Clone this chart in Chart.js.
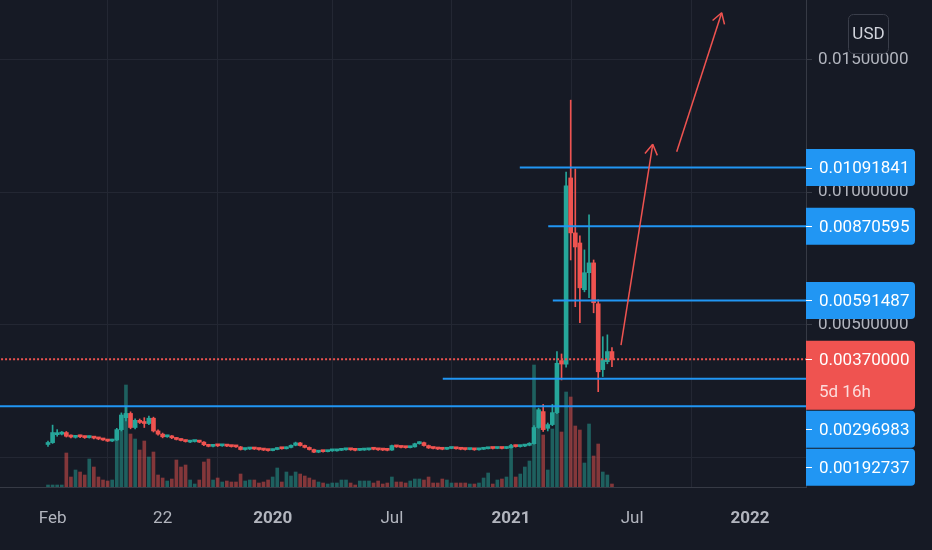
<!DOCTYPE html>
<html>
<head>
<meta charset="utf-8">
<script src="https://cdn.jsdelivr.net/npm/chart.js@4.4.0/dist/chart.umd.min.js"></script>
<style>
  html, body { margin: 0; padding: 0; background: #161a25; }
  #wrap { width: 932px; height: 550px; }
</style>
</head>
<body>
<div id="wrap"><canvas id="chart" width="932" height="550"></canvas></div>
<script>
// weekly candles, one per week starting late Jan 2019 (x = week number)
const open = [
  0.00049, 0.00056, 0.00086, 0.00088, 0.00094, 0.00082, 0.00076, 0.00081, 0.00079, 0.00075,
  0.00078, 0.00073, 0.00070, 0.00066, 0.00062, 0.00066, 0.00105, 0.00150, 0.00166, 0.00113,
  0.00140, 0.00134, 0.00128, 0.00148, 0.00100, 0.00088, 0.00078, 0.00081, 0.00074, 0.00068,
  0.00064, 0.00058, 0.00060, 0.00062, 0.00058, 0.00048, 0.00042, 0.00046, 0.00044, 0.00047,
  0.00044, 0.00042, 0.00040, 0.00030, 0.00032, 0.00035, 0.00032, 0.00030, 0.00028, 0.00026,
  0.00030, 0.00035, 0.00033, 0.00038, 0.00046, 0.00055, 0.00045, 0.00038, 0.00030, 0.00020,
  0.00024, 0.00022, 0.00025, 0.00025, 0.00027, 0.00029, 0.00031, 0.00029, 0.00027, 0.00028,
  0.00029, 0.00033, 0.00031, 0.00029, 0.00028, 0.00028, 0.00043, 0.00040, 0.00038, 0.00037,
  0.00040, 0.00052, 0.00056, 0.00045, 0.00036, 0.00034, 0.00033, 0.00031, 0.00034, 0.00036,
  0.00033, 0.00031, 0.00030, 0.00031, 0.00029, 0.00031, 0.00033, 0.00036, 0.00034, 0.00036,
  0.00034, 0.00037, 0.00045, 0.00041, 0.00043, 0.00046, 0.00052, 0.00113, 0.00173, 0.00110,
  0.00124, 0.00169, 0.00365, 0.00352, 0.01053, 0.00846, 0.00808, 0.00632, 0.00696, 0.00733,
  0.00579, 0.00331, 0.00361, 0.00399
];
const high = [
  0.00062, 0.00122, 0.00105, 0.00098, 0.00098, 0.00085, 0.00083, 0.00084, 0.00081, 0.00081,
  0.00080, 0.00075, 0.00072, 0.00068, 0.00069, 0.00110, 0.00168, 0.00190, 0.00172, 0.00146,
  0.00145, 0.00150, 0.00156, 0.00152, 0.00104, 0.00092, 0.00084, 0.00083, 0.00076, 0.00070,
  0.00066, 0.00064, 0.00064, 0.00064, 0.00060, 0.00050, 0.00049, 0.00048, 0.00049, 0.00049,
  0.00046, 0.00044, 0.00042, 0.00035, 0.00037, 0.00037, 0.00034, 0.00032, 0.00030, 0.00032,
  0.00037, 0.00037, 0.00040, 0.00048, 0.00058, 0.00057, 0.00047, 0.00040, 0.00032, 0.00026,
  0.00026, 0.00027, 0.00028, 0.00029, 0.00031, 0.00033, 0.00033, 0.00030, 0.00030, 0.00031,
  0.00033, 0.00035, 0.00033, 0.00031, 0.00030, 0.00047, 0.00045, 0.00042, 0.00040, 0.00042,
  0.00054, 0.00060, 0.00058, 0.00047, 0.00038, 0.00036, 0.00035, 0.00036, 0.00038, 0.00038,
  0.00035, 0.00033, 0.00033, 0.00032, 0.00033, 0.00035, 0.00038, 0.00037, 0.00038, 0.00037,
  0.00040, 0.00050, 0.00047, 0.00046, 0.00049, 0.00056, 0.00120, 0.00186, 0.00200, 0.00130,
  0.00200, 0.00399, 0.00390, 0.01075, 0.01346, 0.01087, 0.00835, 0.00782, 0.00914, 0.00744,
  0.00594, 0.00455, 0.00462, 0.00414
];
const low = [
  0.00042, 0.00053, 0.00080, 0.00085, 0.00077, 0.00074, 0.00073, 0.00075, 0.00072, 0.00073,
  0.00070, 0.00067, 0.00064, 0.00060, 0.00060, 0.00064, 0.00100, 0.00138, 0.00108, 0.00108,
  0.00128, 0.00113, 0.00124, 0.00096, 0.00084, 0.00074, 0.00076, 0.00071, 0.00066, 0.00062,
  0.00058, 0.00056, 0.00058, 0.00056, 0.00045, 0.00040, 0.00040, 0.00041, 0.00042, 0.00041,
  0.00039, 0.00038, 0.00028, 0.00028, 0.00030, 0.00030, 0.00028, 0.00026, 0.00024, 0.00025,
  0.00029, 0.00031, 0.00032, 0.00036, 0.00044, 0.00043, 0.00036, 0.00028, 0.00018, 0.00018,
  0.00020, 0.00021, 0.00023, 0.00024, 0.00026, 0.00028, 0.00027, 0.00025, 0.00026, 0.00027,
  0.00028, 0.00029, 0.00027, 0.00026, 0.00025, 0.00027, 0.00038, 0.00036, 0.00035, 0.00036,
  0.00039, 0.00050, 0.00043, 0.00034, 0.00032, 0.00030, 0.00029, 0.00030, 0.00033, 0.00031,
  0.00029, 0.00028, 0.00029, 0.00027, 0.00028, 0.00030, 0.00032, 0.00032, 0.00033, 0.00032,
  0.00033, 0.00035, 0.00039, 0.00039, 0.00041, 0.00044, 0.00050, 0.00110, 0.00098, 0.00100,
  0.00120, 0.00165, 0.00292, 0.00340, 0.00744, 0.00568, 0.00508, 0.00624, 0.00602, 0.00545,
  0.00248, 0.00305, 0.00353, 0.00342
];
const close = [
  0.00056, 0.00094, 0.00090, 0.00092, 0.00080, 0.00077, 0.00080, 0.00078, 0.00075, 0.00078,
  0.00073, 0.00070, 0.00066, 0.00062, 0.00066, 0.00105, 0.00160, 0.00166, 0.00113, 0.00140,
  0.00132, 0.00128, 0.00148, 0.00100, 0.00088, 0.00078, 0.00081, 0.00074, 0.00068, 0.00064,
  0.00060, 0.00061, 0.00062, 0.00058, 0.00048, 0.00042, 0.00046, 0.00044, 0.00047, 0.00043,
  0.00041, 0.00040, 0.00030, 0.00033, 0.00035, 0.00032, 0.00030, 0.00028, 0.00026, 0.00030,
  0.00035, 0.00033, 0.00038, 0.00046, 0.00055, 0.00045, 0.00038, 0.00030, 0.00020, 0.00024,
  0.00022, 0.00025, 0.00026, 0.00027, 0.00029, 0.00031, 0.00029, 0.00027, 0.00028, 0.00029,
  0.00031, 0.00031, 0.00029, 0.00028, 0.00027, 0.00045, 0.00040, 0.00038, 0.00037, 0.00040,
  0.00052, 0.00056, 0.00045, 0.00036, 0.00034, 0.00032, 0.00031, 0.00034, 0.00036, 0.00033,
  0.00031, 0.00030, 0.00031, 0.00029, 0.00031, 0.00033, 0.00036, 0.00034, 0.00036, 0.00034,
  0.00037, 0.00045, 0.00041, 0.00043, 0.00046, 0.00052, 0.00113, 0.00180, 0.00105, 0.00124,
  0.00169, 0.00355, 0.00352, 0.01023, 0.00846, 0.00793, 0.00639, 0.00696, 0.00733, 0.00583,
  0.00323, 0.00368, 0.00399, 0.00370
];
// volume in arbitrary units
const volume = [
  2, 2, 2, 2, 34, 10, 17, 15, 12, 28,
  20, 10, 7, 6, 7, 50, 60, 102, 53, 48,
  37, 46, 30, 35, 12, 9, 6, 8, 27, 20,
  22, 7, 3, 7, 25, 28, 7, 9, 5, 6,
  5, 5, 13, 6, 7, 7, 4, 5, 7, 10,
  19, 5, 15, 11, 15, 13, 11, 9, 7, 5,
  4, 3, 4, 4, 7, 7, 4, 2, 6, 6,
  6, 4, 6, 3, 4, 10, 5, 5, 4, 6,
  8, 8, 7, 10, 4, 4, 8, 7, 4, 4,
  4, 4, 3, 3, 4, 9, 14, 3, 7, 8,
  10, 42, 10, 13, 20, 26, 122, 70, 52, 17,
  58, 100, 55, 95, 90, 61, 57, 24, 63, 31,
  43, 15, 12, 3
];

const tickWeeks = [1, 25, 49, 75, 101, 127.4, 153.1];
const tickLabels = ['Feb', '22', '2020', 'Jul', '2021', 'Jul', '2022'];
const priceTicks = [0, 0.005, 0.01, 0.015];

// drawn horizontal levels and the week each one starts at
const levels = [0.01091841, 0.00870595, 0.00591487, 0.00296983, 0.00192737];
const levelStart = [102.9, 109.1, 110.1, 86.1, -11];
const lastPrice = 0.0037;
const countdown = '5d 16h';

// drawn arrows: [week, price] start and tip
const arrows = [
  [[124.97, 0.004237], [131.89, 0.011797]],
  [[137.12, 0.011518], [146.93, 0.016753]]
];

const UP = '#26a69a', DOWN = '#ef5350';
const isUp = open.map((o, i) => close[i] >= o);
const candleColor = isUp.map(u => u ? UP : DOWN);
const volColor = isUp.map(u => u ? 'rgba(38,166,154,0.5)' : 'rgba(239,83,80,0.5)');

const xMin = -10.47, xMax = 165.32;

const datasets = [
  {
    type: 'bar', label: 'Volume', yAxisID: 'v', order: 5, grouped: false,
    data: volume.map((v, i) => ({ x: i, y: v })),
    backgroundColor: volColor, barThickness: 3
  },
  {
    type: 'bar', label: 'Wick', order: 4, grouped: false,
    data: low.map((l, i) => ({ x: i, y: [l, high[i]] })),
    backgroundColor: candleColor, barThickness: 1
  },
  {
    type: 'bar', label: 'Body', order: 3, grouped: false,
    data: open.map((o, i) => ({ x: i, y: [o, close[i]] })),
    backgroundColor: candleColor, barThickness: 4, minBarLength: 2
  }
];

levels.forEach((lv, k) => {
  datasets.push({
    type: 'line', order: 2, borderColor: '#2196f3', borderWidth: 2, pointRadius: 0,
    data: [{ x: levelStart[k], y: lv }, { x: xMax + 5, y: lv }]
  });
});

datasets.push({
  type: 'line', order: 2, borderColor: '#ef5350', borderWidth: 2, pointRadius: 0,
  borderDash: [2, 2],
  data: [{ x: xMin - 5, y: lastPrice }, { x: xMax + 5, y: lastPrice }]
});

arrows.forEach(a => {
  datasets.push({
    type: 'line', order: 1, borderColor: '#ef5350', borderWidth: 1.5, pointRadius: 0,
    isArrow: true,
    data: a.map(p => ({ x: p[0], y: p[1] }))
  });
});

function roundBox(ctx, x, y, w, h, r) {
  ctx.beginPath();
  if (ctx.roundRect) ctx.roundRect(x, y, w, h, r);
  else ctx.rect(x, y, w, h);
}

const background = {
  id: 'background',
  beforeDraw(chart) {
    const ctx = chart.ctx;
    ctx.save();
    ctx.fillStyle = '#161a25';
    ctx.fillRect(0, 0, chart.width, chart.height);
    ctx.restore();
  }
};

const overlay = {
  id: 'overlay',
  afterDatasetsDraw(chart) {
    const ctx = chart.ctx;
    ctx.save();
    chart.data.datasets.forEach((ds, i) => {
      if (!ds.isArrow) return;
      const pts = chart.getDatasetMeta(i).data;
      const a = pts[0], b = pts[pts.length - 1];
      const ang = Math.atan2(a.y - b.y, a.x - b.x);
      ctx.strokeStyle = ds.borderColor;
      ctx.lineWidth = 1.5;
      ctx.beginPath();
      [0.55, -0.55].forEach(d => {
        ctx.moveTo(b.x, b.y);
        ctx.lineTo(b.x + 12 * Math.cos(ang + d), b.y + 12 * Math.sin(ang + d));
      });
      ctx.stroke();
    });
    ctx.restore();
  },
  afterDraw(chart) {
    const ctx = chart.ctx, ys = chart.scales.y;
    const left = chart.chartArea.right;
    ctx.save();

    const items = levels.map(v => ({ value: v, bg: '#2196f3', lines: [v.toFixed(8)] }));
    items.push({ value: lastPrice, bg: '#ef5350', lines: [lastPrice.toFixed(8), countdown] });
    items.forEach(it => {
      it.h = it.lines.length > 1 ? 69 : 37;
      it.top = ys.getPixelForValue(it.value) - 18.5;
    });
    items.sort((a, b) => a.top - b.top);
    let prev = -1e9;
    items.forEach(it => {
      if (it.top < prev + 1) it.top = prev + 1;
      prev = it.top + it.h;
    });
    ctx.font = '17px Roboto';
    ctx.textBaseline = 'middle';
    ctx.textAlign = 'left';
    items.forEach(it => {
      ctx.fillStyle = it.bg;
      roundBox(ctx, left, it.top, 109, it.h, [0, 4, 4, 0]);
      ctx.fill();
      const cy = it.top + 18.5;
      ctx.strokeStyle = '#ffffff';
      ctx.lineWidth = 1;
      ctx.beginPath();
      ctx.moveTo(left, Math.round(cy) + 0.5);
      ctx.lineTo(left + 6, Math.round(cy) + 0.5);
      ctx.stroke();
      ctx.fillStyle = '#ffffff';
      ctx.fillText(it.lines[0], left + 13, cy + 1);
      if (it.lines[1]) {
        ctx.fillStyle = 'rgba(255,255,255,0.8)';
        ctx.fillText(it.lines[1], left + 13, cy + 33);
      }
    });

    // currency badge
    ctx.fillStyle = '#161a25';
    ctx.strokeStyle = '#3a3e4a';
    ctx.lineWidth = 1;
    roundBox(ctx, 848.5, 14.5, 40, 39, 5);
    ctx.fill();
    ctx.stroke();
    ctx.fillStyle = '#d1d4dc';
    ctx.textAlign = 'center';
    ctx.fillText('USD', 868.5, 34.5);
    ctx.restore();
  }
};

const noPad = s => {
  s.paddingTop = 0; s.paddingBottom = 0; s.paddingLeft = 0; s.paddingRight = 0;
};

new Chart(document.getElementById('chart'), {
  type: 'bar',
  data: { datasets: datasets },
  options: {
    responsive: false,
    animation: false,
    events: [],
    layout: { padding: 0 },
    plugins: { legend: { display: false }, tooltip: { enabled: false } },
    scales: {
      x: {
        type: 'linear', min: xMin, max: xMax, offset: false,
        afterBuildTicks: s => { s.ticks = tickWeeks.map(v => ({ value: v })); },
        afterFit: s => { s.height = 63; noPad(s); },
        grid: { color: '#232733', drawTicks: false },
        border: { color: '#363a45' },
        ticks: {
          color: '#b2b5be', padding: 22, maxRotation: 0, autoSkip: false,
          callback: (v, i) => tickLabels[i],
          font: ctx => ({
            family: 'Roboto', size: 17,
            weight: /^\d{4}$/.test(tickLabels[ctx.index]) ? 'bold' : 'normal'
          })
        }
      },
      y: {
        type: 'linear', position: 'right', min: -0.001111, max: 0.017232,
        afterBuildTicks: s => { s.ticks = priceTicks.map(v => ({ value: v })); },
        afterFit: s => { s.width = 126; noPad(s); },
        grid: { color: '#232733', tickColor: '#363a45', tickLength: 6 },
        border: { color: '#363a45' },
        ticks: {
          color: '#b2b5be', padding: 6,
          font: { family: 'Roboto', size: 17 },
          callback: v => v.toFixed(8)
        }
      },
      v: { type: 'linear', display: false, min: 0, max: 487 }
    }
  },
  plugins: [background, overlay]
});
</script>
</body>
</html>
